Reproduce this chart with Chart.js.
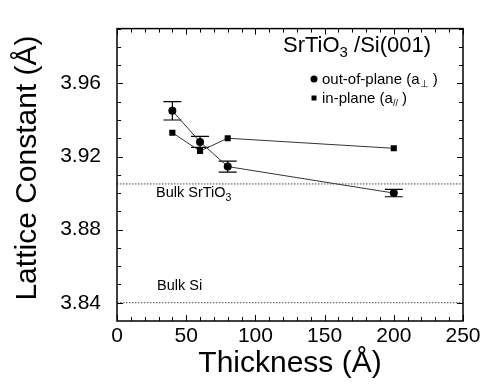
<!DOCTYPE html>
<html>
<head>
<meta charset="utf-8">
<script src="https://cdn.jsdelivr.net/npm/chart.js@4.4.0/dist/chart.umd.min.js"></script>
<style>
  html, body { margin: 0; padding: 0; background: #fff; }
  #wrap { width: 489px; height: 391px; }
</style>
</head>
<body>
<div id="wrap"><canvas id="chart" width="489" height="391"></canvas></div>
<script>
// Datos
const thickness = [40, 60, 80, 200];
const outOfPlane = [3.945, 3.928, 3.9145, 3.900];
const outOfPlaneErr = [0.005, 0.003, 0.003, 0.002];
const inPlane = [3.933, 3.923, 3.930, 3.9245];
const bulkSrTiO3 = 3.905;
const bulkSi = 3.840;
const xTicks = [0, 50, 100, 150, 200, 250];
const yTicks = [3.84, 3.88, 3.92, 3.96];

const FONT = '"Liberation Sans", Arial, Helvetica, sans-serif';

const pts = (ys) => thickness.map((x, i) => ({ x: x, y: ys[i] }));

// Ticks hacia dentro en los cuatro lados + marco
const framePlugin = {
    id: 'frame',
    afterDraw(chart) {
        const { ctx, chartArea: a, scales: { x, y } } = chart;
        ctx.save();
        ctx.strokeStyle = '#000';
        ctx.lineWidth = 1;
        ctx.beginPath();
        for (let v = 0; v <= 250; v += 10) {
            const px = Math.round(x.getPixelForValue(v)) + 0.5;
            const len = v % 50 === 0 ? 6 : 4;
            ctx.moveTo(px, a.bottom); ctx.lineTo(px, a.bottom - len);
            ctx.moveTo(px, a.top); ctx.lineTo(px, a.top + len);
        }
        for (let k = 384; k <= 399; k++) {
            const v = k / 100;
            const py = Math.round(y.getPixelForValue(v)) + 0.5;
            const len = (k - 384) % 4 === 0 ? 6 : 4;
            ctx.moveTo(a.left, py); ctx.lineTo(a.left + len, py);
            ctx.moveTo(a.right, py); ctx.lineTo(a.right - len, py);
        }
        ctx.stroke();
        ctx.lineWidth = 1.5;
        ctx.strokeRect(a.left, a.top, a.right - a.left, a.bottom - a.top);

        // título eje Y
        ctx.fillStyle = '#000';
        ctx.font = '30px ' + FONT;
        ctx.translate(28, 168);
        ctx.rotate(-Math.PI / 2);
        ctx.textAlign = 'center';
        ctx.textBaseline = 'middle';
        ctx.fillText('Lattice Constant (Å)', 0, 0);
        ctx.restore();

        // leyenda y rótulos
        ctx.save();
        ctx.fillStyle = '#000';
        ctx.textBaseline = 'alphabetic';
        const run = (parts, x0, y0) => {
            let cx = x0;
            parts.forEach(([t, size, dy]) => {
                ctx.font = size + 'px ' + FONT;
                ctx.fillText(t, cx, y0 + dy);
                cx += ctx.measureText(t).width;
            });
        };
        run([['SrTiO', 22, 0], ['3', 15, 5], [' /Si(001)', 22, 0]], 283, 52);
        run([['out-of-plane (a', 15, 0], ['⊥', 10, 3], [' )', 15, 0]], 322, 84);
        run([['in-plane (a', 15, 0], ['//', 9, 3], [' )', 15, 0]], 322, 103);
        run([['Bulk SrTiO', 14.5, 0], ['3', 10.5, 4]], 156, 197);
        run([['Bulk Si', 14.5, 0]], 157, 290);

        ctx.beginPath();
        ctx.arc(314, 79, 3.5, 0, Math.PI * 2);
        ctx.fill();
        ctx.fillRect(311.5, 95.5, 5, 5);
        ctx.restore();
    }
};

// Barras de error del parámetro fuera del plano
const errorBarPlugin = {
    id: 'errorBars',
    beforeDatasetsDraw(chart) {
        const { ctx, scales: { x, y } } = chart;
        ctx.save();
        ctx.strokeStyle = '#000';
        ctx.lineWidth = 1.2;
        ctx.beginPath();
        thickness.forEach((t, i) => {
            const px = x.getPixelForValue(t);
            const top = y.getPixelForValue(outOfPlane[i] + outOfPlaneErr[i]);
            const bot = y.getPixelForValue(outOfPlane[i] - outOfPlaneErr[i]);
            ctx.moveTo(px, top); ctx.lineTo(px, bot);
            ctx.moveTo(px - 9, top); ctx.lineTo(px + 9, top);
            ctx.moveTo(px - 9, bot); ctx.lineTo(px + 9, bot);
        });
        ctx.stroke();
        ctx.restore();
    }
};

const ctx = document.getElementById('chart').getContext('2d');
new Chart(ctx, {
    type: 'scatter',
    data: {
        datasets: [
            {
                label: 'Bulk SrTiO3',
                data: [{ x: 0, y: bulkSrTiO3 }, { x: 250, y: bulkSrTiO3 }],
                showLine: true, pointRadius: 0,
                borderColor: '#444', borderWidth: 1, borderDash: [1.5, 1.5]
            },
            {
                label: 'Bulk Si',
                data: [{ x: 0, y: bulkSi }, { x: 250, y: bulkSi }],
                showLine: true, pointRadius: 0,
                borderColor: '#444', borderWidth: 1, borderDash: [1.5, 1.5]
            },
            {
                label: 'in-plane',
                data: pts(inPlane),
                showLine: true,
                borderColor: '#333', borderWidth: 1,
                pointStyle: 'rect', pointRadius: 4.3,
                pointBackgroundColor: '#000', pointBorderColor: '#000', pointBorderWidth: 0
            },
            {
                label: 'out-of-plane',
                data: pts(outOfPlane),
                showLine: true,
                borderColor: '#333', borderWidth: 1,
                pointStyle: 'circle', pointRadius: 4,
                pointBackgroundColor: '#000', pointBorderColor: '#000', pointBorderWidth: 0
            }
        ]
    },
    options: {
        responsive: false,
        animation: false,
        layout: { padding: { top: 10, right: 26, left: 0, bottom: 0 } },
        plugins: { legend: { display: false }, tooltip: { enabled: false } },
        scales: {
            x: {
                type: 'linear', min: 0, max: 250,
                afterBuildTicks: (s) => { s.ticks = xTicks.map(v => ({ value: v })); },
                afterFit: (s) => { s.height = 70; },
                grid: { display: false, drawTicks: false },
                border: { display: false },
                ticks: { color: '#000', padding: 3, font: { family: FONT, size: 21 } },
                title: { display: true, text: 'Thickness (Å)', color: '#000', padding: { top: 0, bottom: 9 }, font: { family: FONT, size: 30 } }
            },
            y: {
                type: 'linear', min: 3.83, max: 3.99,
                afterBuildTicks: (s) => { s.ticks = yTicks.map(v => ({ value: v })); },
                afterFit: (s) => { s.width = 117; },
                grid: { display: false, drawTicks: false },
                border: { display: false },
                ticks: { color: '#000', padding: 16, font: { family: FONT, size: 21 }, callback: (v) => v.toFixed(2) }
            }
        }
    },
    plugins: [errorBarPlugin, framePlugin]
});
</script>
</body>
</html>
